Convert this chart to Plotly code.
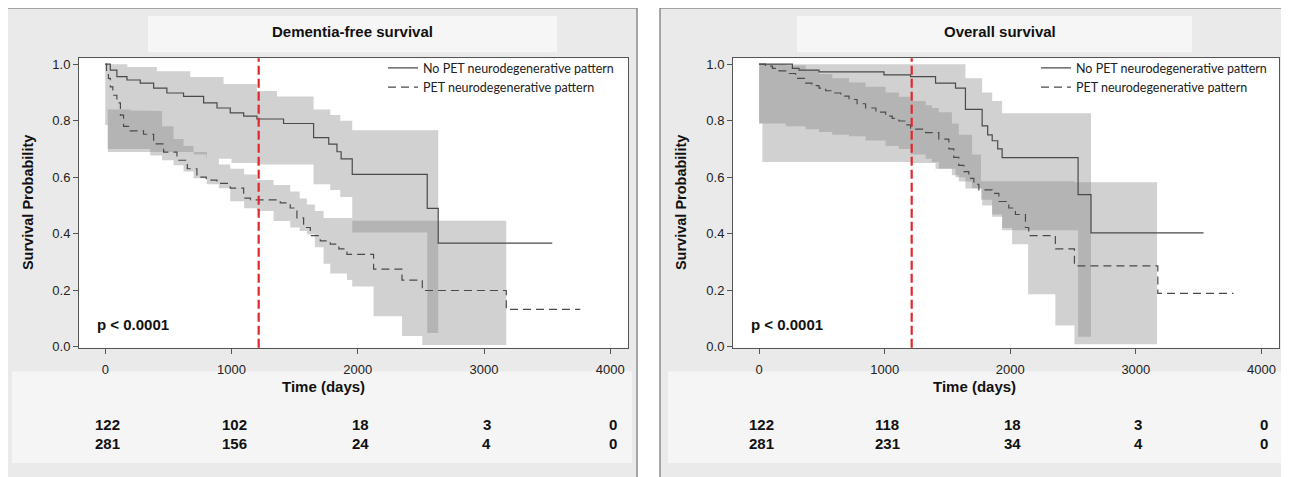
import plotly.graph_objects as go

# ---------------- DATA ----------------
x_ticks = [0, 1000, 2000, 3000, 4000]
y_ticks = [0.0, 0.2, 0.4, 0.6, 0.8, 1.0]
cutoff_days = 1215
panel_titles = ["Dementia-free survival", "Overall survival"]
legend_names = ["No PET neurodegenerative pattern", "PET neurodegenerative pattern"]
p_text = "p < 0.0001"

# Left panel: dementia-free survival
L_no_t = [0, 40, 92, 172, 277, 383, 488, 620, 779, 885, 990, 1096, 1201, 1412, 1650, 1770, 1835, 1868, 1956, 2550, 2637]
L_no_s = [1.0, 0.979, 0.956, 0.944, 0.933, 0.915, 0.898, 0.886, 0.863, 0.845, 0.828, 0.816, 0.806, 0.79, 0.74, 0.717, 0.69, 0.665, 0.61, 0.49, 0.367]
L_no_end = 3540
L_no_bt = [0, 20, 175, 409, 673, 700, 800, 937, 1000, 1201, 1360, 1650, 1782, 1861, 1956, 2550]
L_no_up = [1.0, 1.0, 0.99, 0.975, 0.955, 0.955, 0.955, 0.93, 0.93, 0.905, 0.886, 0.84, 0.82, 0.80, 0.766, 0.766]
L_no_lo = [0.785, 0.689, 0.689, 0.689, 0.689, 0.68, 0.665, 0.665, 0.65, 0.645, 0.645, 0.575, 0.555, 0.53, 0.404, 0.049]
L_no_bend = 2637

L_pet_t = [0, 10, 25, 40, 60, 92, 120, 145, 198, 303, 383, 462, 568, 650, 726, 800, 885, 990, 1096, 1150, 1386, 1465, 1518, 1571, 1624, 1703, 1782, 1850, 1914, 2125, 2350, 2511, 3176]
L_pet_s = [1.0, 0.97, 0.95, 0.92, 0.89, 0.863, 0.82, 0.78, 0.764, 0.752, 0.718, 0.689, 0.66, 0.63, 0.60, 0.59, 0.578, 0.561, 0.526, 0.52, 0.509, 0.491, 0.456, 0.422, 0.393, 0.375, 0.363, 0.346, 0.327, 0.275, 0.236, 0.199, 0.132]
L_pet_end = 3762
L_pet_bt = [20, 200, 356, 450, 541, 620, 700, 805, 900, 990, 1100, 1201, 1333, 1465, 1540, 1597, 1660, 1729, 1782, 1914, 1956, 2125, 2350, 2511]
L_pet_up = [0.84, 0.836, 0.834, 0.78, 0.735, 0.71, 0.689, 0.665, 0.645, 0.63, 0.61, 0.59, 0.572, 0.549, 0.525, 0.503, 0.48, 0.456, 0.456, 0.456, 0.446, 0.446, 0.446, 0.446]
L_pet_lo = [0.70, 0.70, 0.677, 0.66, 0.642, 0.62, 0.596, 0.575, 0.561, 0.515, 0.49, 0.48, 0.445, 0.422, 0.41, 0.398, 0.352, 0.294, 0.259, 0.236, 0.213, 0.108, 0.038, 0.006]
L_pet_bend = 3176

L_risk_no = [122, 102, 18, 3, 0]
L_risk_pet = [281, 156, 24, 4, 0]

# Right panel: overall survival
R_no_t = [0, 265, 318, 477, 994, 1206, 1405, 1564, 1643, 1776, 1820, 1856, 1900, 1935, 2540, 2643]
R_no_s = [1.0, 0.985, 0.979, 0.973, 0.962, 0.956, 0.933, 0.915, 0.84, 0.782, 0.75, 0.729, 0.70, 0.669, 0.538, 0.403]
R_no_end = 3539
R_no_bt = [0, 26, 1206, 1405, 1564, 1643, 1776, 1856, 1935, 2540]
R_no_up = [1.0, 1.0, 1.0, 1.0, 1.0, 0.95, 0.90, 0.87, 0.826, 0.826]
R_no_lo = [0.79, 0.654, 0.65, 0.63, 0.60, 0.56, 0.50, 0.46, 0.412, 0.035]
R_no_bend = 2643

R_pet_t = [0, 50, 106, 160, 212, 290, 371, 420, 477, 530, 583, 650, 716, 780, 848, 930, 1007, 1060, 1113, 1160, 1206, 1326, 1431, 1511, 1550, 1590, 1630, 1670, 1710, 1750, 1856, 1909, 1988, 2041, 2121, 2147, 2359, 2511, 3175]
R_pet_s = [1.0, 0.993, 0.985, 0.976, 0.967, 0.95, 0.933, 0.924, 0.915, 0.906, 0.898, 0.887, 0.875, 0.86, 0.845, 0.83, 0.816, 0.808, 0.799, 0.785, 0.77, 0.758, 0.735, 0.70, 0.67, 0.642, 0.62, 0.596, 0.575, 0.555, 0.543, 0.514, 0.491, 0.468, 0.422, 0.393, 0.346, 0.286, 0.189]
R_pet_end = 3777
R_pet_bt = [0, 212, 371, 477, 583, 716, 848, 1007, 1113, 1206, 1326, 1376, 1431, 1535, 1590, 1696, 1767, 1855, 1935, 2015, 2142, 2359, 2511]
R_pet_up = [1.0, 0.995, 0.98, 0.965, 0.95, 0.935, 0.92, 0.90, 0.885, 0.87, 0.855, 0.845, 0.83, 0.79, 0.75, 0.68, 0.586, 0.586, 0.586, 0.586, 0.586, 0.586, 0.582]
R_pet_lo = [0.79, 0.78, 0.77, 0.76, 0.75, 0.745, 0.73, 0.71, 0.70, 0.68, 0.665, 0.654, 0.63, 0.607, 0.585, 0.561, 0.52, 0.468, 0.42, 0.363, 0.186, 0.075, 0.009]
R_pet_bend = 3169

R_risk_no = [122, 118, 18, 3, 0]
R_risk_pet = [281, 231, 34, 4, 0]

# ---------------- HELPERS ----------------
OFF = 8  # page body margin
W, H = 1289 - OFF, 477 - OFF


def px(x):
    return (x - OFF) / W


def py(y):
    return 1 - (y - OFF) / H


def steps(t, v, t_end):
    xs, ys = [], []
    for i in range(len(t)):
        nxt = t[i + 1] if i + 1 < len(t) else t_end
        xs += [t[i], nxt]
        ys += [v[i], v[i]]
    return xs, ys


def band(t, lo, up, t_end):
    xu, yu = steps(t, up, t_end)
    xl, yl = steps(t, lo, t_end)
    return xu + xl[::-1], yu + yl[::-1]


BAND_FILL = "rgba(135,135,135,0.38)"
CURVE = "#4a4a4a"

fig = go.Figure()

panels = [
    dict(xa="x", ya="y", leg="legend",
         no=(L_no_t, L_no_s, L_no_end, L_no_bt, L_no_lo, L_no_up, L_no_bend),
         pet=(L_pet_t, L_pet_s, L_pet_end, L_pet_bt, L_pet_lo, L_pet_up, L_pet_bend),
         risk=(L_risk_no, L_risk_pet)),
    dict(xa="x2", ya="y2", leg="legend2",
         no=(R_no_t, R_no_s, R_no_end, R_no_bt, R_no_lo, R_no_up, R_no_bend),
         pet=(R_pet_t, R_pet_s, R_pet_end, R_pet_bt, R_pet_lo, R_pet_up, R_pet_bend),
         risk=(R_risk_no, R_risk_pet)),
]

for p in panels:
    for key in ("no", "pet"):
        t, s, te, bt, lo, up, bte = p[key]
        bx, by = band(bt, lo, up, bte)
        fig.add_trace(go.Scatter(x=bx, y=by, xaxis=p["xa"], yaxis=p["ya"], mode="lines",
                                 fill="toself", fillcolor=BAND_FILL, line=dict(width=0),
                                 hoverinfo="skip", showlegend=False))
    for key, name, dash in (("no", legend_names[0], "solid"), ("pet", legend_names[1], "8px,5px")):
        t, s, te, bt, lo, up, bte = p[key]
        cx, cy = steps(t, s, te)
        fig.add_trace(go.Scatter(x=cx, y=cy, xaxis=p["xa"], yaxis=p["ya"], mode="lines",
                                 line=dict(color=CURVE, width=1.2, dash=dash),
                                 name=name, legend=p["leg"], showlegend=True))

# ---------------- LAYOUT ----------------
xr = [-208, 4140]
yr = [-0.004, 1.021]
ydom = [py(352), py(58)]
axis_common = dict(showline=True, linecolor="#555555", linewidth=1, mirror=True,
                   ticks="outside", ticklen=5, tickcolor="#555555", showgrid=False,
                   zeroline=False, tickfont=dict(family="Liberation Sans, Arial", size=13, color="#222222"))

legend_common = dict(xanchor="left", yanchor="top", bgcolor="rgba(0,0,0,0)",
                     font=dict(family="Lato", size=12.5, color="#222222"), tracegroupgap=0)
fig.update_layout(
    width=W, height=H, margin=dict(l=0, r=0, t=0, b=0),
    paper_bgcolor="white", plot_bgcolor="white",
    xaxis=dict(domain=[px(79), px(628)], range=xr, tickvals=x_ticks, anchor="y", ticklabelstandoff=5, **axis_common),
    yaxis=dict(domain=ydom, range=yr, tickvals=y_ticks, tickformat=".1f", anchor="x", **axis_common),
    xaxis2=dict(domain=[px(733), min(1.0, px(1279))], range=xr, tickvals=x_ticks, anchor="y2", ticklabelstandoff=5, **axis_common),
    yaxis2=dict(domain=ydom, range=yr, tickvals=y_ticks, tickformat=".1f", anchor="x2", **axis_common),
    legend=dict(x=px(383), y=py(53), **legend_common),
    legend2=dict(x=px(1036), y=py(53), **legend_common),
)

shapes = []
# panel frames
for x0, x1 in ((7, 637), (660, 1300)):
    shapes.append(dict(type="rect", xref="paper", yref="paper", x0=px(x0), x1=px(x1), y0=py(490), y1=py(7),
                       fillcolor="#eaeaea", line=dict(color="#8c8c8c", width=1.5), layer="below"))
# title boxes
for x0, x1 in ((148, 557), (797, 1192)):
    shapes.append(dict(type="rect", xref="paper", yref="paper", x0=px(x0), x1=px(x1), y0=py(52), y1=py(15),
                       fillcolor="#f6f6f6", line=dict(width=0), layer="below"))
# at-risk boxes
for x0, x1 in ((12, 632), (668, 1283)):
    shapes.append(dict(type="rect", xref="paper", yref="paper", x0=px(x0), x1=px(x1), y0=py(469), y1=py(376),
                       fillcolor="#f5f5f5", line=dict(width=0), layer="below"))
# plot area white + cutoff line
for xa, ya in (("x", "y"), ("x2", "y2")):
    shapes.append(dict(type="rect", xref=xa + " domain", yref=ya + " domain", x0=0, x1=1, y0=0, y1=1,
                       fillcolor="white", line=dict(width=0), layer="below"))
    shapes.append(dict(type="line", xref=xa, yref=ya + " domain", x0=cutoff_days, x1=cutoff_days, y0=0, y1=1,
                       line=dict(color="#e3262b", width=2.2, dash="9px,4px"), layer="above"))
fig.update_layout(shapes=shapes)

ann = []
bold = dict(family="Liberation Sans, Arial", color="#111111")
C = dict(xanchor="center", yanchor="middle", showarrow=False)
for cx, title in ((352, panel_titles[0]), (1000, panel_titles[1])):
    ann.append(dict(xref="paper", yref="paper", x=px(cx), y=py(31), text="<b>%s</b>" % title,
                    font=dict(size=15, **bold), **C))
for cx in (323, 975):
    ann.append(dict(xref="paper", yref="paper", x=px(cx), y=py(391), text="<b>Time (days)</b>",
                    font=dict(size=15, **bold), **C))
for cx in (28, 681):
    ann.append(dict(xref="paper", yref="paper", x=px(cx), y=py(205), text="<b>Survival Probability</b>",
                    textangle=-90, font=dict(size=14.5, **bold), **C))
for xa, ya in (("x", "y"), ("x2", "y2")):
    ann.append(dict(xref=xa + " domain", yref=ya + " domain", x=0.03, y=0.08, xanchor="left", yanchor="middle",
                    text="<b>%s</b>" % p_text, showarrow=False, font=dict(size=15, **bold)))
for p in panels:
    for row, yy in zip(p["risk"], (430, 449)):
        for xv, n in zip(x_ticks, row):
            ann.append(dict(xref=p["xa"], yref="paper", x=xv + 20, y=py(yy), text="<b>%d</b>" % n,
                            font=dict(size=15, **bold), **C))
fig.update_layout(annotations=ann)

fig.write_html("out.html")
